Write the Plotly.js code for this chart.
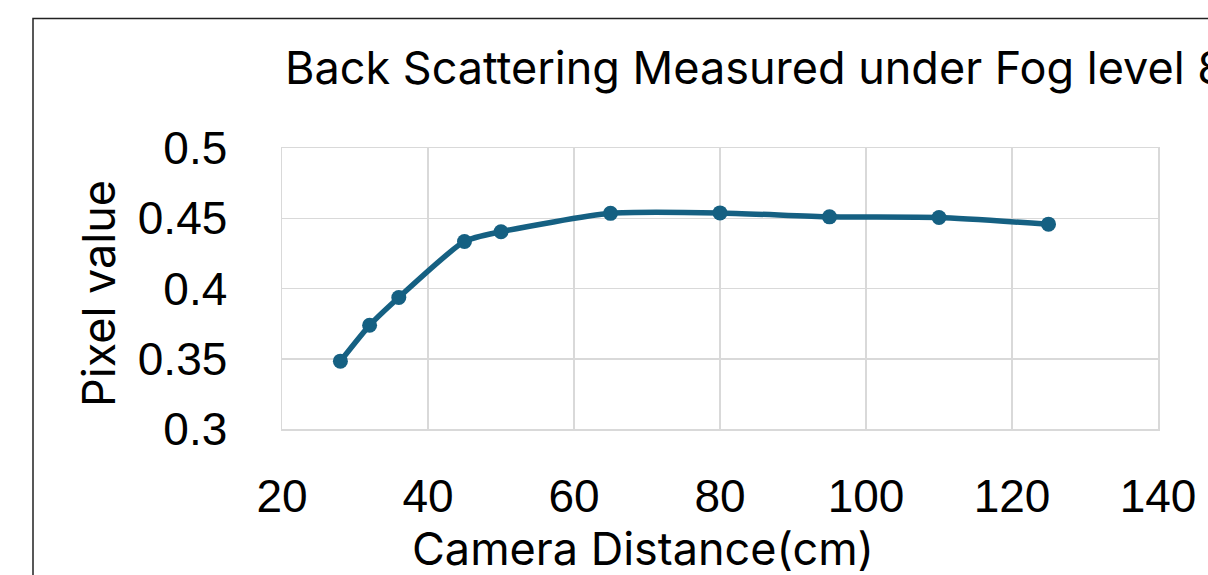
<!DOCTYPE html>
<html><head><meta charset="utf-8">
<script src="https://cdn.plot.ly/plotly-3.0.1.min.js"></script>
<style>html,body{margin:0;padding:0;background:#fff;overflow:hidden}#chart{width:1208px;height:575px}</style>
</head><body><div id="chart"></div>
<script>
const distance = [28, 32, 36, 45, 50, 65, 80, 95, 110, 125];
const pixelValue = [0.3483, 0.3738, 0.3936, 0.4335, 0.4404, 0.4535, 0.4538, 0.4510, 0.4505, 0.4458];
const xTicks = [20, 40, 60, 80, 100, 120, 140];
const yTicks = [0.3, 0.35, 0.4, 0.45, 0.5];
const yTickText = ['0.3', '0.35', '0.4', '0.45', '0.5'];
const titleText = 'Back Scattering Measured under Fog level 8';
const xTitle = 'Camera Distance(cm)';
const yTitle = 'Pixel value';

const FONT = 'Liberation Sans, Arial, sans-serif';
const TFONT = 'Inter, Open Sans, sans-serif';
const W = 1208, H = 575, L = 282, R = 50, T = 148, B = 146;
const pw = W - L - R, ph = H - T - B;
const px = x => (x - L) / pw, py = y => (H - B - y) / ph;

Plotly.newPlot('chart', [{
  x: distance, y: pixelValue, type: 'scatter', mode: 'lines+markers',
  line: {color: '#156082', width: 5.5, shape: 'spline', smoothing: 0.6},
  marker: {color: '#156082', size: 15},
  hoverinfo: 'x+y'
}], {
  width: W, height: H,
  margin: {l: L, r: R, t: T, b: B},
  paper_bgcolor: '#fff', plot_bgcolor: '#fff',
  showlegend: false,
  font: {family: FONT, color: '#000'},
  title: {text: titleText, font: {family: TFONT, size: 45, color: '#000'},
    xref: 'paper', x: px(285), xanchor: 'left', yref: 'container', y: 1 - 68 / H, yanchor: 'middle'},
  xaxis: {range: [20, 140], tickvals: xTicks, ticktext: xTicks.map(String),
    showgrid: true, gridcolor: '#d9d9d9', gridwidth: 1.5,
    showline: true, linecolor: '#d9d9d9', linewidth: 1.5, mirror: true,
    zeroline: false, ticks: '', tickfont: {size: 46, family: FONT}, ticklabelstandoff: 26},
  yaxis: {range: [0.3, 0.5], tickvals: yTicks, ticktext: yTickText,
    showgrid: true, gridcolor: '#d9d9d9', gridwidth: 1.5,
    showline: true, linecolor: '#d9d9d9', linewidth: 1.5, mirror: true,
    zeroline: false, ticks: '', tickfont: {size: 46, family: FONT}, ticklabelstandoff: 44},
  annotations: [
    {text: xTitle, xref: 'paper', yref: 'paper', x: px(643), y: py(548), xanchor: 'center', yanchor: 'middle',
     showarrow: false, font: {size: 45, family: TFONT, color: '#000'}},
    {text: yTitle, xref: 'paper', yref: 'paper', x: px(98), y: py(294), xanchor: 'center', yanchor: 'middle',
     textangle: -90, showarrow: false, font: {size: 45, family: TFONT, color: '#000'}}
  ],
  shapes: [
    {type: 'rect', xref: 'paper', yref: 'paper', x0: px(33), x1: px(1400), y0: py(800), y1: py(18.5),
     line: {color: '#222', width: 1.5}, fillcolor: 'rgba(0,0,0,0)', layer: 'above'}
  ]
}, {displayModeBar: false, staticPlot: true});
</script></body></html>
